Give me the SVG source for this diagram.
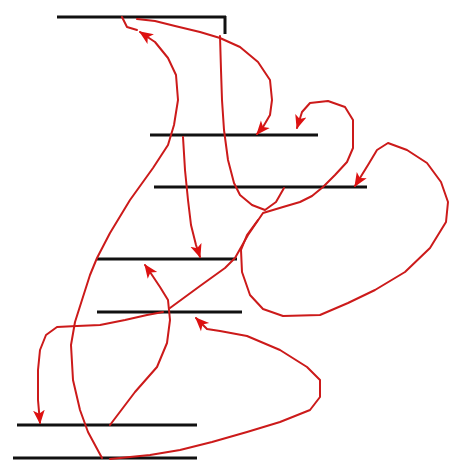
<svg xmlns="http://www.w3.org/2000/svg" width="451" height="461" viewBox="0 0 451 461">
<defs>
<style>
.node line{stroke:#111;stroke-width:3;stroke-linecap:butt}
.conn path{fill:none;stroke:#cc1a1a;stroke-width:2;stroke-linejoin:round;stroke-linecap:round}
.arr{marker-end:url(#ah)}
</style>
<marker id="ah" markerUnits="userSpaceOnUse" markerWidth="14" markerHeight="14" viewBox="0 0 12 12" refX="11" refY="6" orient="auto">
<path d="M0,1 L12,6 L0,11 L3,6 z" fill="#dd1111"/>
</marker>
</defs>
<rect width="451" height="461" fill="#fff"/>
<g id="node1" class="node"><line x1="57" y1="17" x2="226" y2="17"/><line x1="225" y1="16" x2="225" y2="34"/></g>
<g id="node2" class="node"><line x1="150" y1="135" x2="318" y2="135"/></g>
<g id="node3" class="node"><line x1="154" y1="187" x2="367" y2="187"/></g>
<g id="node4" class="node"><line x1="97" y1="259" x2="237" y2="259"/></g>
<g id="node5" class="node"><line x1="97" y1="312" x2="242" y2="312"/></g>
<g id="node6" class="node"><line x1="17" y1="425" x2="197" y2="425"/></g>
<g id="node7" class="node"><line x1="13" y1="458" x2="197" y2="458"/></g>
<g id="connectors" class="conn">
<path class="arr" d="M102,458 L88,432 L80,410 L73,380 L71,345 L75,322 L82,300 L90,275 L97,258 L110,233 L130,200 L153,168 L168,145 L174,125 L178,100 L176,75 L168,58 L155,42 L140,32"/>
<path class="arr" d="M110,459 L150,455 L180,450 L212,442 L247,432 L280,422 L310,410 L320,397 L320,380 L307,367 L280,350 L247,336 L220,331 L207,329 L196,318"/>
<path class="arr" d="M137,19 L155,21 L175,26 L200,32 L220,38 L240,47 L258,62 L270,80 L272,100 L270,115 L263,127 L257,134"/>
<path d="M220,36 L221,70 L222,100 L224,130 L228,160 L234,183 L240,195 L252,205 L265,210 L276,202 L284,188"/>
<path class="arr" d="M183,137 L185,170 L188,200 L191,225 L196,245 L200,257"/>
<path class="arr" d="M170,308 L200,286 L225,268 L235,258 L248,235 L263,213 L283,207 L300,202 L312,196 L323,187 L335,175 L347,162 L353,148 L353,120 L345,107 L328,101 L310,103 L302,112 L297,128"/>
<path class="arr" d="M110,425 L135,392 L157,367 L167,343 L170,320 L168,300 L160,287 L150,272 L145,265"/>
<path class="arr" d="M163,312 L147,315 L125,320 L100,325 L77,326 L57,327 L46,335 L40,350 L38,370 L38,400 L40,423"/>
<path class="arr" d="M258,220 L247,235 L241,250 L242,272 L250,295 L263,309 L283,316 L320,315 L348,303 L375,290 L405,272 L430,248 L446,222 L448,202 L441,182 L427,163 L407,150 L388,143 L377,150 L368,165 L355,186"/>
<path d="M122,17 L127,27 L137,30"/>
</g>
</svg>
